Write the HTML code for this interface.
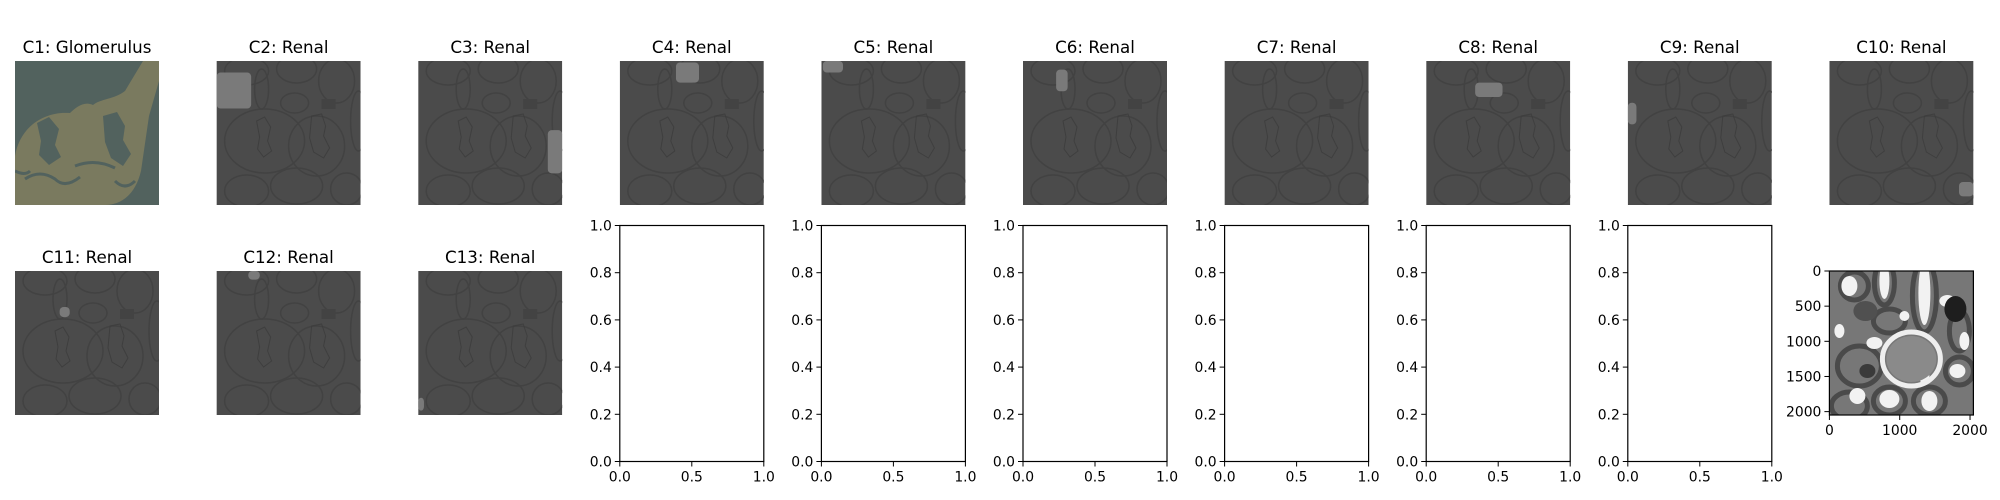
<!DOCTYPE html>
<html><head><meta charset="utf-8">
<style>
html,body{margin:0;padding:0;background:#fff;}
svg{display:block;font-family:"DejaVu Sans","Liberation Sans",sans-serif;}
</style></head>
<body>
<svg id="fig" width="2000" height="500" viewBox="0 0 2000 500" xmlns="http://www.w3.org/2000/svg">
<defs>
  <clipPath id="imgclip"><rect x="0" y="0" width="144" height="144"/></clipPath>
  <g id="tissue">
    <rect x="0" y="0" width="144" height="144" fill="#4b4b4b"/>
    <g fill="none" stroke="#424242" stroke-width="1.5">
      <ellipse cx="30" cy="10" rx="22" ry="14"/>
      <ellipse cx="80" cy="8" rx="20" ry="14"/>
      <ellipse cx="45" cy="28" rx="7" ry="20"/>
      <ellipse cx="120" cy="20" rx="18" ry="22"/>
      <ellipse cx="78" cy="42" rx="14" ry="10"/>
      <ellipse cx="48" cy="80" rx="40" ry="32"/>
      <ellipse cx="100" cy="85" rx="28" ry="30"/>
      <ellipse cx="30" cy="130" rx="22" ry="16"/>
      <ellipse cx="80" cy="125" rx="26" ry="18"/>
      <ellipse cx="130" cy="128" rx="16" ry="16"/>
      <ellipse cx="142" cy="60" rx="8" ry="30"/>
    </g>
    <g fill="none" stroke="#3c3c3c" stroke-width="1" opacity="0.8">
      <path d="M40 60 l8 -4 l6 10 l-3 14 l4 10 l-8 6 l-6 -8 l2 -12z"/>
      <path d="M95 55 l10 -2 l4 12 l-2 10 l6 12 l-6 10 l-10 -6 l-4 -14z"/>
    </g>
    <rect x="105" y="38" width="14" height="10" fill="#434343"/>
  </g>
</defs>
<g id="root"></g>
</svg>
<script>
const NS='http://www.w3.org/2000/svg';
const titles=['C1: Glomerulus','C2: Renal','C3: Renal','C4: Renal','C5: Renal','C6: Renal','C7: Renal','C8: Renal','C9: Renal','C10: Renal','C11: Renal','C12: Renal','C13: Renal'];
// highlighted region per panel: [x0,y0,x1,y1] fraction of image
const blobC2=[0,0.08,0.24,0.33];
const blobC3=[0.9,0.48,1,0.78];
const blobC4=[0.39,0.01,0.55,0.15];
const blobC5=[0.01,0,0.15,0.08];
const blobC6=[0.23,0.06,0.31,0.21];
const blobC8=[0.34,0.15,0.53,0.25];
const blobC9=[0,0.29,0.06,0.44];
const blobC10=[0.9,0.84,1,0.94];
const blobC11=[0.31,0.25,0.38,0.32];
const blobC12=[0.22,0,0.3,0.06];
const blobC13=[0,0.88,0.04,0.97];
const blobs=[null,blobC2,blobC3,blobC4,blobC5,blobC6,null,blobC8,blobC9,blobC10,blobC11,blobC12,blobC13];
const emptyYTicks=[0.0,0.2,0.4,0.6,0.8,1.0];
const emptyXTicks=[0.0,0.5,1.0];
const imgXTicks=[0,1000,2000];
const imgYTicks=[0,500,1000,1500,2000];
const imgExtent=[0,2048];

const root=document.getElementById('root');
function mk(tag,attrs,parent){const e=document.createElementNS(NS,tag);for(const k in attrs)e.setAttribute(k,attrs[k]);(parent||root).appendChild(e);return e;}
const colX=i=>15+201.6*i;
const W=144;
const rowTop=[61,271];

titles.forEach((t,i)=>{
  const col=i<10?i:i-10, row=i<10?0:1;
  const x=colX(col), y=rowTop[row];
  const g=mk('g',{transform:`translate(${x},${y})`,'clip-path':'url(#imgclip)'});
  
  
  mk('use',{href:'#tissue'},g);
  if(i===0){
    mk('rect',{x:0,y:0,width:W,height:W,fill:'#52625e'},g);
    const p=mk('path',{d:'M0 95 C5 65 30 50 55 52 C62 45 70 40 78 44 C85 38 100 38 110 30 L128 0 L144 0 L144 20 L134 55 L126 110 C120 135 105 144 90 144 L0 144 Z',fill:'#7a7a5f'},g);
    
    
    mk('path',{d:'M22 62 l12 -6 l10 12 l-4 16 l6 12 l-12 8 l-10 -10 l2 -14z M88 55 l14 -4 l8 14 l-2 14 l8 14 l-8 12 l-12 -8 l-6 -16z',fill:'#52625e'},g);
    mk('path',{d:'M10 118 q15 -10 30 0 q10 10 25 -2 M60 105 q20 -8 40 2 M100 120 q10 10 20 0 M0 110 q10 5 15 0',stroke:'#52625e',fill:'none','stroke-width':3},g);
    mk('rect',{x:134,y:55,width:10,height:89,fill:'#52625e'},g);
  }
  const b=blobs[i];
  if(b){
    const r=mk('rect',{x:b[0]*W,y:b[1]*W,width:(b[2]-b[0])*W,height:(b[3]-b[1])*W,rx:4,fill:'#7a7a7a'},g);
    
    
  }
  const tt=mk('text',{x:x+W/2,y:y-8,'text-anchor':'middle','font-size':16.7,fill:'#000'});
  tt.textContent=t;
  
  
});

function ticksAxes(x0,y0,w,h,xt,yt,xd,yd,invertY){
  const sx=v=>x0+(v-xd[0])/(xd[1]-xd[0])*w;
  const sy=v=>invertY? y0+(v-yd[0])/(yd[1]-yd[0])*h : y0+h-(v-yd[0])/(yd[1]-yd[0])*h;
  xt.forEach(v=>{
    mk('line',{x1:sx(v),x2:sx(v),y1:y0+h,y2:y0+h+5,stroke:'#000','stroke-width':1});
    const t=mk('text',{x:sx(v),y:y0+h+20,'text-anchor':'middle','font-size':13.9});
    t.textContent=xd[1]>10?String(v):v.toFixed(1);
    
    
  });
  yt.forEach(v=>{
    mk('line',{x1:x0-5,x2:x0,y1:sy(v),y2:sy(v),stroke:'#000','stroke-width':1});
    const t=mk('text',{x:x0-8,y:sy(v)+5,'text-anchor':'end','font-size':13.9});
    t.textContent=yd[1]>10?String(v):v.toFixed(1);
    
    
  });
}
for(let c=3;c<=8;c++){
  const x=colX(c);
  const r=mk('rect',{x:x,y:225.5,width:W,height:236,fill:'#fff',stroke:'#000','stroke-width':1.2});
  
  
  ticksAxes(x,225.5,W,236,emptyXTicks,emptyYTicks,[0,1],[0,1],false);
}
(function(){
  const x=colX(9), y=271;
  const g=mk('g',{transform:`translate(${x},${y})`,'clip-path':'url(#imgclip)'});
  
  
  mk('rect',{x:0,y:0,width:W,height:W,fill:'#777'},g);
  const rings=[[25,15,14,14],[55,12,10,22],[95,25,12,36],[60,50,16,12],[30,95,22,20],[20,135,18,14],[60,130,16,14],[100,130,16,14],[130,100,14,14],[130,60,10,20]];
  rings.forEach(w=>mk('ellipse',{cx:w[0],cy:w[1],rx:w[2],ry:w[3],fill:'none',stroke:'#4a4a4a','stroke-width':5},g));
  const whites=[[20,15,8,10],[55,10,5,18],[95,22,6,32],[118,30,8,6],[45,72,8,6],[95,105,5,9],[28,125,8,8],[60,128,10,9],[100,130,8,10],[128,100,8,7],[135,70,5,9],[10,60,5,7],[75,45,5,5]];
  whites.forEach(w=>mk('ellipse',{cx:w[0],cy:w[1],rx:w[2],ry:w[3],fill:'#f2f2f2'},g));
  mk('ellipse',{cx:82,cy:88,rx:29,ry:27,fill:'none',stroke:'#eee','stroke-width':5},g);
  mk('ellipse',{cx:82,cy:88,rx:25,ry:23,fill:'#8a8a8a'},g);
  mk('ellipse',{cx:126,cy:38,rx:11,ry:13,fill:'#1e1e1e'},g);
  mk('ellipse',{cx:38,cy:100,rx:8,ry:7,fill:'#3a3a3a'},g);
  mk('ellipse',{cx:36,cy:40,rx:12,ry:10,fill:'#505050'},g);
  mk('rect',{x:x,y:y,width:W,height:W,fill:'none',stroke:'#000','stroke-width':1.2});
  ticksAxes(x,y,W,W,imgXTicks,imgYTicks,imgExtent,imgExtent,true);
})();
</script>
</body></html>
